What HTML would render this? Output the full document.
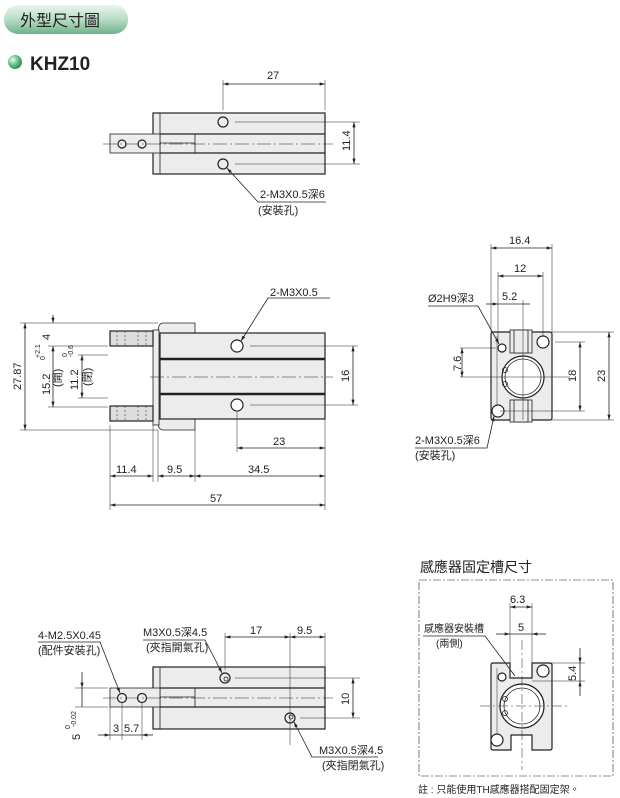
<!DOCTYPE html>
<html><head><meta charset="utf-8"><style>
html,body{margin:0;padding:0;background:#fff;width:620px;height:798px;overflow:hidden}
svg text{font-family:"Liberation Sans","Noto Sans CJK TC",sans-serif;fill:#222}
</style></head><body>
<svg width="620" height="798" viewBox="0 0 620 798" xmlns="http://www.w3.org/2000/svg">
<defs>
<linearGradient id="pill" x1="0" y1="0" x2="0" y2="1"><stop offset="0" stop-color="#e8f5ec"/><stop offset="0.5" stop-color="#b9dcc4"/><stop offset="1" stop-color="#6fb28a"/></linearGradient>
<radialGradient id="ball" cx="0.35" cy="0.35" r="0.7"><stop offset="0" stop-color="#e8fff0"/><stop offset="0.5" stop-color="#6cc48e"/><stop offset="1" stop-color="#2a8a55"/></radialGradient>
<marker id="a" viewBox="0 0 10 6" refX="10" refY="3" markerWidth="7" markerHeight="4" orient="auto-start-reverse"><path d="M0,0L10,3L0,6z" fill="#222"/></marker>
</defs>
<rect x="4" y="5" width="124" height="29" rx="14" fill="url(#pill)"/>
<text x="20" y="26" font-size="16">外型尺寸圖</text>
<circle cx="15" cy="62" r="7" fill="url(#ball)"/>
<text x="30" y="70" font-size="19" font-weight="bold">KHZ10</text>

<g stroke="#222" fill="none" stroke-width="0.8">
<!-- View 1 -->
<rect x="153" y="113" width="172" height="61" fill="#ececec" stroke-width="1.2"/>
<line x1="160" y1="113" x2="160" y2="174"/>
<line x1="160" y1="134" x2="325" y2="134" stroke-width="1.2"/><line x1="160" y1="153" x2="325" y2="153" stroke-width="1.2"/>
<rect x="110" y="134" width="50" height="19" fill="#ececec"/>
<line x1="195" y1="134" x2="195" y2="153"/><line x1="160" y1="143" x2="195" y2="143"/>
<circle cx="122" cy="144" r="4" stroke-width="1.2"/><circle cx="142" cy="144" r="4" stroke-width="1.2"/>
<circle cx="223" cy="122" r="5" stroke-width="1.2"/><circle cx="223" cy="164" r="5" stroke-width="1.2"/>
<line x1="103" y1="144" x2="333" y2="144" stroke-dasharray="14 3 2 3" stroke-width="0.5"/>
<line x1="235" y1="122" x2="360" y2="122" stroke-width="0.5"/><line x1="235" y1="164" x2="360" y2="164" stroke-width="0.5"/>
<line x1="223" y1="80" x2="223" y2="110" stroke-width="0.5"/><line x1="325" y1="80" x2="325" y2="110" stroke-width="0.5"/>
<line x1="223" y1="84" x2="325" y2="84" marker-start="url(#a)" marker-end="url(#a)"/>
<line x1="354" y1="122" x2="354" y2="164" marker-start="url(#a)" marker-end="url(#a)"/>
<polyline points="227,168 258,202 326,202" marker-start="url(#a)"/>

<!-- View 2 -->
<path d="M158,333 Q158,323 163,323 L195,323 L195,430 L163,430 Q158,430 158,421" fill="#ececec"/>
<rect x="160" y="333" width="165" height="86" fill="#ececec" stroke-width="1.2"/>
<rect x="153" y="330" width="6" height="95" fill="#ececec"/>
<line x1="160" y1="359" x2="325" y2="359" stroke-width="2.5"/><line x1="160" y1="394" x2="325" y2="394" stroke-width="2.5"/>
<rect x="110" y="331" width="43" height="15" fill="#ddd" stroke-width="1.2"/>
<rect x="110" y="406" width="43" height="15" fill="#ddd" stroke-width="1.2"/>
<g stroke-dasharray="2 2" stroke-width="0.5"><line x1="117" y1="331" x2="117" y2="346"/><line x1="125" y1="331" x2="125" y2="346"/><line x1="138" y1="331" x2="138" y2="346"/><line x1="146" y1="331" x2="146" y2="346"/><line x1="117" y1="406" x2="117" y2="421"/><line x1="125" y1="406" x2="125" y2="421"/><line x1="138" y1="406" x2="138" y2="421"/><line x1="146" y1="406" x2="146" y2="421"/></g>
<circle cx="237" cy="346" r="6" stroke-width="1.2" fill="#fff"/><circle cx="237" cy="405" r="6" stroke-width="1.2" fill="#fff"/>
<line x1="150" y1="377" x2="333" y2="377" stroke-dasharray="14 3 2 3" stroke-width="0.5"/>
<line x1="250" y1="346" x2="358" y2="346" stroke-width="0.5"/><line x1="250" y1="405" x2="358" y2="405" stroke-width="0.5"/>
<line x1="353" y1="346" x2="353" y2="405" marker-start="url(#a)" marker-end="url(#a)"/>
<g stroke-width="0.5"><line x1="20" y1="323" x2="158" y2="323"/><line x1="20" y1="430" x2="158" y2="430"/><line x1="48" y1="346" x2="108" y2="346"/><line x1="48" y1="407" x2="108" y2="407"/><line x1="78" y1="355" x2="108" y2="355"/><line x1="78" y1="398" x2="108" y2="398"/></g>
<line x1="25" y1="323" x2="25" y2="430" marker-start="url(#a)" marker-end="url(#a)"/>
<line x1="53" y1="315" x2="53" y2="323" marker-end="url(#a)"/><line x1="53" y1="346" x2="53" y2="407" marker-start="url(#a)" marker-end="url(#a)"/>
<line x1="82" y1="355" x2="82" y2="398" marker-start="url(#a)" marker-end="url(#a)"/>
<polyline points="241,341 268,298 330,298" marker-start="url(#a)"/>
<g stroke-width="0.5"><line x1="110" y1="425" x2="110" y2="510"/><line x1="153" y1="425" x2="153" y2="482"/><line x1="158" y1="430" x2="158" y2="482"/><line x1="195" y1="430" x2="195" y2="482"/><line x1="325" y1="419" x2="325" y2="510"/><line x1="237" y1="412" x2="237" y2="452"/></g>
<line x1="237" y1="448" x2="325" y2="448" marker-start="url(#a)" marker-end="url(#a)"/>
<line x1="110" y1="476" x2="153" y2="476" marker-start="url(#a)" marker-end="url(#a)"/>
<line x1="158" y1="476" x2="195" y2="476" marker-start="url(#a)" marker-end="url(#a)"/>
<line x1="195" y1="476" x2="325" y2="476" marker-start="url(#a)" marker-end="url(#a)"/>
<line x1="110" y1="505" x2="325" y2="505" marker-start="url(#a)" marker-end="url(#a)"/>

<!-- View 3 -->
<rect x="491" y="332" width="61" height="88" rx="2" fill="#ececec" stroke-width="1.2"/>
<line x1="497" y1="336" x2="497" y2="416" stroke-width="0.5"/>
<rect x="510" y="330" width="22" height="23" fill="#ececec"/><rect x="514" y="330" width="14" height="23" fill="#ececec"/>
<rect x="510" y="400" width="22" height="22" fill="#ececec"/><rect x="514" y="400" width="14" height="22" fill="#ececec"/>
<circle cx="523" cy="377" r="21" fill="#fff" stroke-width="1.2"/><circle cx="523" cy="377" r="18"/>
<circle cx="505" cy="370" r="2.5"/><circle cx="505" cy="384" r="2.5"/>
<circle cx="543" cy="342" r="6" stroke-width="1.2" fill="#fff"/><circle cx="498" cy="411" r="6" stroke-width="1.2" fill="#fff"/><circle cx="502" cy="348" r="4" stroke-width="1.2" fill="#fff"/>
<g stroke-width="0.5"><line x1="491" y1="244" x2="491" y2="332"/><line x1="552" y1="244" x2="552" y2="332"/><line x1="498" y1="272" x2="498" y2="342"/><line x1="543" y1="272" x2="543" y2="336"/><line x1="523" y1="300" x2="523" y2="420"/><line x1="460" y1="348" x2="496" y2="348"/><line x1="460" y1="377" x2="570" y2="377"/><line x1="555" y1="342" x2="585" y2="342"/><line x1="500" y1="411" x2="585" y2="411"/><line x1="552" y1="332" x2="614" y2="332"/><line x1="552" y1="420" x2="614" y2="420"/></g>
<line x1="491" y1="248" x2="552" y2="248" marker-start="url(#a)" marker-end="url(#a)"/>
<line x1="498" y1="276" x2="543" y2="276" marker-start="url(#a)" marker-end="url(#a)"/>
<line x1="486" y1="304" x2="498" y2="304" marker-end="url(#a)"/><line x1="523" y1="304" x2="530" y2="304"/><line x1="498" y1="304" x2="523" y2="304"/>
<line x1="462" y1="348" x2="462" y2="377" marker-start="url(#a)" marker-end="url(#a)"/>
<line x1="580" y1="342" x2="580" y2="411" marker-start="url(#a)" marker-end="url(#a)"/>
<line x1="609" y1="332" x2="609" y2="420" marker-start="url(#a)" marker-end="url(#a)"/>
<polyline points="499,344 478,306 428,306" marker-start="url(#a)"/>
<polyline points="494,416 487,448 415,448" marker-start="url(#a)"/>

<!-- View 4 -->
<rect x="419" y="580" width="194" height="196" stroke-dasharray="8 2 2 2" stroke-width="0.6"/>
<path d="M493,663 L510,663 L510,678 L532,678 L532,663 L550,663 Q552,663 552,665 L552,748 Q552,750 550,750 L532,750 L532,735 L511,735 L511,750 L493,750 Q491,750 491,748 L491,665 Q491,663 493,663Z" fill="#ececec" stroke-width="1.2"/>
<line x1="497" y1="668" x2="497" y2="746" stroke-width="0.5"/>
<circle cx="522" cy="706" r="22" fill="#fff" stroke-width="1.2"/><circle cx="522" cy="706" r="18"/>
<circle cx="505" cy="699" r="2.5"/><circle cx="505" cy="713" r="2.5"/>
<circle cx="543" cy="671" r="6" stroke-width="1.2" fill="#fff"/><circle cx="497" cy="740" r="6" stroke-width="1.2" fill="#fff"/><circle cx="502" cy="677" r="4" stroke-width="1.2" fill="#fff"/>
<g stroke-width="0.5"><line x1="510" y1="603" x2="510" y2="663"/><line x1="532" y1="603" x2="532" y2="663"/><line x1="522" y1="640" x2="522" y2="770" stroke-dasharray="10 3 2 3"/><line x1="480" y1="706" x2="570" y2="706" stroke-dasharray="10 3 2 3"/><line x1="552" y1="663" x2="585" y2="663"/><line x1="532" y1="681" x2="585" y2="681"/></g>
<line x1="510" y1="607" x2="532" y2="607" marker-start="url(#a)" marker-end="url(#a)"/>
<line x1="496" y1="634" x2="510" y2="634" marker-end="url(#a)"/><line x1="546" y1="634" x2="532" y2="634" marker-end="url(#a)"/><line x1="510" y1="634" x2="532" y2="634"/>
<line x1="580" y1="648" x2="580" y2="663" marker-end="url(#a)"/><line x1="580" y1="696" x2="580" y2="681" marker-end="url(#a)"/><line x1="580" y1="663" x2="580" y2="681"/>
<polyline points="423,636 485,636 515,676"/>

<!-- View 5 -->
<rect x="153" y="667" width="172" height="62" fill="#ececec" stroke-width="1.2"/>
<line x1="160" y1="667" x2="160" y2="729"/>
<line x1="160" y1="688" x2="325" y2="688" stroke-width="1.2"/><line x1="160" y1="707" x2="325" y2="707" stroke-width="1.2"/>
<rect x="110" y="688" width="50" height="19" fill="#ececec"/>
<line x1="195" y1="688" x2="195" y2="707"/><line x1="160" y1="697" x2="195" y2="697"/>
<circle cx="122" cy="698" r="4.5" stroke-width="1.2"/><circle cx="142" cy="698" r="4.5" stroke-width="1.2"/>
<circle cx="225" cy="678" r="5" stroke-width="1.2"/><circle cx="226" cy="679" r="2"/>
<circle cx="290" cy="718" r="5" stroke-width="1.2"/><circle cx="291" cy="717" r="2"/>
<line x1="103" y1="698" x2="333" y2="698" stroke-dasharray="14 3 2 3" stroke-width="0.5"/>
<g stroke-width="0.5"><line x1="235" y1="678" x2="360" y2="678"/><line x1="300" y1="718" x2="360" y2="718"/><line x1="225" y1="633" x2="225" y2="670"/><line x1="290" y1="633" x2="290" y2="745"/><line x1="325" y1="633" x2="325" y2="667"/><line x1="75" y1="688" x2="108" y2="688"/><line x1="75" y1="707" x2="108" y2="707"/><line x1="110" y1="707" x2="110" y2="740"/><line x1="122" y1="702" x2="122" y2="740"/><line x1="142" y1="702" x2="142" y2="740"/></g>
<line x1="225" y1="637" x2="290" y2="637" marker-start="url(#a)" marker-end="url(#a)"/>
<line x1="290" y1="637" x2="325" y2="637" marker-start="url(#a)" marker-end="url(#a)"/>
<line x1="353" y1="678" x2="353" y2="718" marker-start="url(#a)" marker-end="url(#a)"/>
<line x1="82" y1="672" x2="82" y2="688" marker-end="url(#a)"/><line x1="82" y1="688" x2="82" y2="707"/>
<line x1="98" y1="735" x2="110" y2="735" marker-end="url(#a)"/><line x1="110" y1="735" x2="142" y2="735"/><line x1="153" y1="735" x2="142" y2="735" marker-end="url(#a)"/>
<polyline points="120,693 100,642 38,642" marker-start="url(#a)"/>
<polyline points="222,673 205,640 143,640" marker-start="url(#a)"/>
<polyline points="294,722 312,757 378,757" marker-start="url(#a)"/>
</g>

<g font-size="11">
<text x="267" y="79">27</text>
<text transform="translate(350,151) rotate(-90)">11.4</text>
<text x="260" y="198">2-M3X0.5深6</text>
<text x="258" y="214">(安裝孔)</text>
<text x="270" y="296">2-M3X0.5</text>
<text transform="translate(21,390) rotate(-90)">27.87</text>
<text transform="translate(50,340) rotate(-90)">4</text>
<text transform="translate(50,395) rotate(-90)">15.2</text>
<text transform="translate(40,358) rotate(-90)" font-size="7">+2.1</text>
<text transform="translate(45,360) rotate(-90)" font-size="7">0</text>
<text transform="translate(61,387) rotate(-90)">(開)</text>
<text transform="translate(78,390) rotate(-90)">11.2</text>
<text transform="translate(67,357) rotate(-90)" font-size="7">0</text>
<text transform="translate(73,357) rotate(-90)" font-size="7">-0.6</text>
<text transform="translate(91,386) rotate(-90)">(閉)</text>
<text transform="translate(349,382) rotate(-90)">16</text>
<text x="273" y="445">23</text>
<text x="116" y="473">11.4</text>
<text x="167" y="473">9.5</text>
<text x="248" y="473">34.5</text>
<text x="210" y="502">57</text>
<text x="509" y="244">16.4</text>
<text x="514" y="272">12</text>
<text x="502" y="300">5.2</text>
<text x="428" y="302">Ø2H9深3</text>
<text transform="translate(461,371) rotate(-90)">7.6</text>
<text transform="translate(576,382) rotate(-90)">18</text>
<text transform="translate(605,382) rotate(-90)">23</text>
<text x="415" y="444">2-M3X0.5深6</text>
<text x="415" y="459">(安裝孔)</text>
<text x="420" y="572" font-size="14">感應器固定槽尺寸</text>
<text x="510" y="603">6.3</text>
<text x="518" y="631">5</text>
<text x="424" y="632" font-size="10">感應器安裝槽</text>
<text x="436" y="647" font-size="10">(兩側)</text>
<text transform="translate(576,681) rotate(-90)">5.4</text>
<text x="418" y="793" font-size="10">註 : 只能使用TH感應器搭配固定架。</text>
<text x="38" y="639">4-M2.5X0.45</text>
<text x="38" y="654">(配件安裝孔)</text>
<text x="143" y="636">M3X0.5深4.5</text>
<text x="146" y="651">(夾指開氣孔)</text>
<text x="250" y="634">17</text>
<text x="297" y="634">9.5</text>
<text transform="translate(349,705) rotate(-90)">10</text>
<text x="319" y="754">M3X0.5深4.5</text>
<text x="322" y="769">(夾指閉氣孔)</text>
<text x="113" y="732">3</text>
<text x="124" y="732">5.7</text>
<text transform="translate(80,740) rotate(-90)">5</text>
<text transform="translate(70,729) rotate(-90)" font-size="7">0</text>
<text transform="translate(76,727) rotate(-90)" font-size="7">-0.02</text>
</g>
</svg>
</body></html>
